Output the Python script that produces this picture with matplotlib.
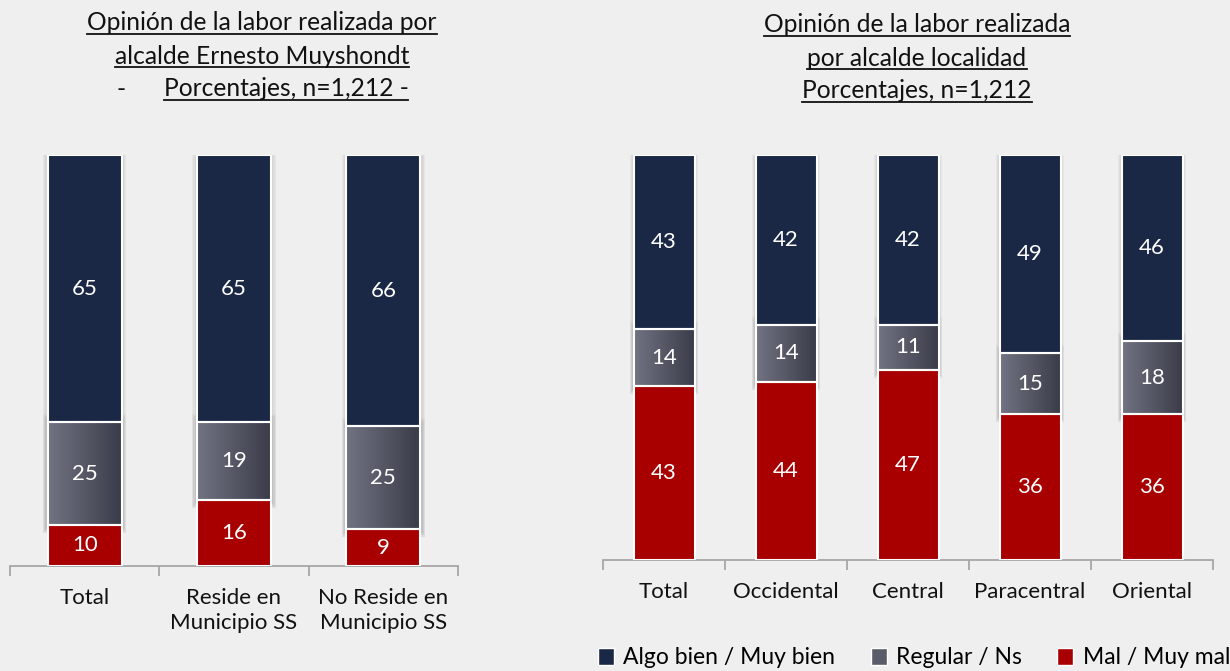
import numpy as np
import matplotlib
matplotlib.use("Agg")
import matplotlib.pyplot as plt
from matplotlib.patches import Rectangle, Patch
from matplotlib.lines import Line2D

plt.rcParams['font.family'] = ['Lato', 'DejaVu Sans']

# ---- data ------------------------------------------------------------------
series = ['Algo bien / Muy bien', 'Regular / Ns', 'Mal / Muy mal']

cats_left = ['Total', 'Reside en\nMunicipio SS', 'No Reside en\nMunicipio SS']
bien_left = [65, 65, 66]
regular_left = [25, 19, 25]
mal_left = [10, 16, 9]

cats_right = ['Total', 'Occidental', 'Central', 'Paracentral', 'Oriental']
bien_right = [43, 42, 42, 49, 46]
regular_right = [14, 14, 11, 15, 18]
mal_right = [43, 44, 47, 36, 36]

# ---- style -----------------------------------------------------------------
BG = '#efefef'
NAVY = '#1b2845'
RED = '#a80000'
GREY_L = np.array([0x72, 0x73, 0x82]) / 255
GREY_R = np.array([0x3a, 0x3c, 0x49]) / 255
FS = 16

grad = np.linspace(0, 1, 64)
grad_rgb = GREY_L[None, None, :] * (1 - grad[None, :, None]) + GREY_R[None, None, :] * grad[None, :, None]


def shadow(ax, xc, width, y0, h):
    for k in range(1, 5):
        dx = 0.008 * k
        dy = 0.5 * k
        ax.add_patch(Rectangle((xc - width / 2 - dx, y0 - dy), width + 2 * dx,
                               h + 2 * dy, color='#444444', alpha=0.05,
                               lw=0, zorder=1))


def stacked(ax, cats, bien, regular, mal, width):
    x = np.arange(len(cats))
    mal = np.array(mal)
    regular = np.array(regular)
    bien = np.array(bien)
    # soft shadow behind grey and navy segments
    for i in x:
        shadow(ax, i, width, mal[i], regular[i] + bien[i])
        shadow(ax, i, width, mal[i], regular[i])
    ax.bar(x, mal, width, color=RED, edgecolor='white', lw=1.5, zorder=3)
    gb = ax.bar(x, regular, width, bottom=mal, color='none', edgecolor='white', lw=1.5, zorder=4)
    for i, p in enumerate(gb.patches):
        im = ax.imshow(grad_rgb, extent=[x[i] - width / 2, x[i] + width / 2,
                                         mal[i], mal[i] + regular[i]],
                       aspect='auto', zorder=2, interpolation='bilinear')
        im.set_clip_path(p)
    ax.bar(x, bien, width, bottom=mal + regular, color=NAVY, edgecolor='white', lw=1.5, zorder=3)
    for i in x:
        ax.text(i, mal[i] / 2, str(mal[i]), color='white', ha='center', va='center', fontsize=FS, zorder=5)
        ax.text(i, mal[i] + regular[i] / 2, str(regular[i]), color='white', ha='center', va='center', fontsize=FS, zorder=5)
        ax.text(i, mal[i] + regular[i] + bien[i] / 2, str(bien[i]), color='white', ha='center', va='center', fontsize=FS, zorder=5)
    ax.set_xlim(-0.5, len(cats) - 0.5)
    ax.set_ylim(0, 100)
    ax.set_facecolor('none')
    for s in ['top', 'right', 'left']:
        ax.spines[s].set_visible(False)
    ax.spines['bottom'].set_color('#a6a6a6')
    ax.spines['bottom'].set_linewidth(1.3)
    ax.set_yticks([])
    ax.set_xticks(x)
    ax.set_xticklabels(cats, fontsize=FS, linespacing=1.3, color='#111111')
    ax.tick_params(axis='x', which='major', length=0, pad=16)
    ax.set_xticks(np.arange(len(cats) + 1) - 0.5, minor=True)
    ax.tick_params(axis='x', which='minor', length=7, width=1.3, color='#a6a6a6', direction='out')


fig = plt.figure(figsize=(12.3, 6.71), dpi=100, facecolor=BG)

ax1 = fig.add_axes([10 / 1230, 1 - 566 / 671, 448 / 1230, 411 / 671])
stacked(ax1, cats_left, bien_left, regular_left, mal_left, 0.495)

ax2 = fig.add_axes([603 / 1230, 1 - 560 / 671, 610 / 1230, 405 / 671])
stacked(ax2, cats_right, bien_right, regular_right, mal_right, 0.5)

# ---- titles (underlined) ---------------------------------------------------
fig.canvas.draw()
renderer = fig.canvas.get_renderer()
inv = fig.transFigure.inverted()


def uline(txt):
    bb = txt.get_window_extent(renderer)
    (x0, y0), (x1, _) = inv.transform([[bb.x0, bb.y0 + 1], [bb.x1, bb.y0]])
    fig.add_artist(Line2D([x0, x1], [y0, y0], color='#111111', lw=1.3, transform=fig.transFigure))


TFS = 17.7
tl = [
    (262, 23, 'Opinión de la labor realizada por'),
    (262, 56, 'alcalde Ernesto Muyshondt'),
    (286, 89, 'Porcentajes, n=1,212 -'),
    (917, 25, 'Opinión de la labor realizada'),
    (917, 58, 'por alcalde localidad'),
    (917, 91, 'Porcentajes, n=1,212'),
]
for px, py, s in tl:
    t = fig.text(px / 1230, 1 - py / 671, s, ha='center', va='center', fontsize=TFS, color='#111111')
    uline(t)
fig.text(121 / 1230, 1 - 89 / 671, '-', ha='center', va='center', fontsize=TFS, color='#111111')

# ---- legend ----------------------------------------------------------------
handles = [Patch(facecolor=NAVY, edgecolor='white'),
           Patch(facecolor='#5a5c6a', edgecolor='white'),
           Patch(facecolor=RED, edgecolor='white')]
fig.legend(handles, series, loc='center right', bbox_to_anchor=(1.0, 1 - 658 / 671),
           ncol=3, frameon=False, fontsize=16.5, handlelength=0.7, handleheight=0.7,
           handletextpad=0.4, columnspacing=1.55, borderaxespad=0, borderpad=0)

fig.savefig('out.png', dpi=100, facecolor=BG)
